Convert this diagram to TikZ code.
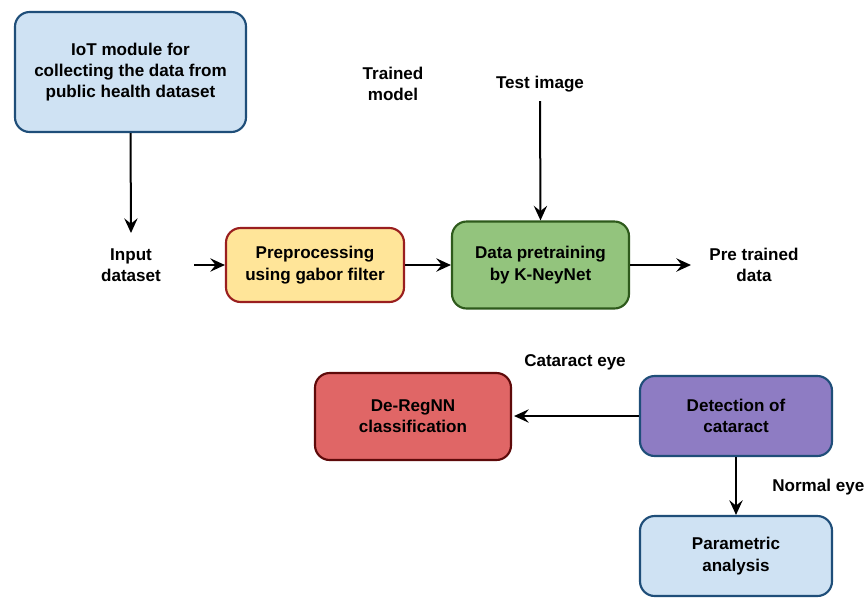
\documentclass[tikz,border=0pt]{standalone}
\usepackage{fontspec}
\setmainfont{Liberation Sans}
\usetikzlibrary{arrows.meta}
\definecolor{bluefill}{HTML}{CFE2F3}
\definecolor{blueline}{HTML}{1F4E79}
\definecolor{yellowfill}{HTML}{FFE599}
\definecolor{yellowline}{HTML}{9A1F1F}
\definecolor{greenfill}{HTML}{93C47D}
\definecolor{greenline}{HTML}{2E5A1C}
\definecolor{redfill}{HTML}{E06666}
\definecolor{redline}{HTML}{5E0A0A}
\definecolor{purplefill}{HTML}{8E7CC3}
\tikzset{
  box/.style={draw, line width=1.6pt, rounded corners=11pt, align=center,
    font=\bfseries\fontsize{12.8}{16}\selectfont, inner sep=0pt},
  lbl/.style={align=center, font=\bfseries\fontsize{12.8}{16}\selectfont, inner sep=0pt},
  flow/.style={line width=1.5pt, -{Stealth[length=11pt,width=10pt,inset=4pt]}}
}
\begin{document}
\begin{tikzpicture}[x=0.75pt,y=-0.75pt]
\useasboundingbox (0,0) rectangle (866,597);
% top input module
\node[box, fill=bluefill, draw=blueline, minimum width=231*0.75pt, minimum height=120*0.75pt]
  (iot) at (130.5,72) {IoT module for\\collecting the data from\\public health dataset};
\node[lbl] (input) at (131,265) {Input\\dataset};
\coordinate (inputtop) at (131,233);
\coordinate (inputright) at (194,265);
% preprocessing and pretraining
\node[box, fill=yellowfill, draw=yellowline, minimum width=178*0.75pt, minimum height=74*0.75pt]
  (pre) at (315,265) {Preprocessing\\using gabor filter};
\node[box, fill=greenfill, draw=greenline, minimum width=177*0.75pt, minimum height=87*0.75pt]
  (train) at (540.5,265) {Data pretraining\\by K-NeyNet};
\node[lbl] (model) at (393,84) {Trained\\model};
\node[lbl] (test) at (540,84) {Test image};
\coordinate (testbot) at (540,101);
\node[lbl] (ptdata) at (754,265) {Pre trained\\data};
\coordinate (ptleft) at (691,265);
% classification branch
\node[box, fill=redfill, draw=redline, minimum width=196*0.75pt, minimum height=87*0.75pt]
  (dereg) at (413,416.5) {De-RegNN\\classification};
\node[box, fill=purplefill, draw=blueline, minimum width=192*0.75pt, minimum height=80*0.75pt]
  (detect) at (736,416) {Detection of\\cataract};
\node[box, fill=bluefill, draw=blueline, minimum width=192*0.75pt, minimum height=80*0.75pt]
  (param) at (736,556) {Parametric\\analysis};
\node[lbl] (cat) at (575,362) {Cataract eye};
\node[lbl, anchor=west] (normal) at (772,487) {Normal eye};
% connectors
\draw[flow] (iot.south) -- (inputtop);
\draw[flow] (inputright) -- (pre.west);
\draw[flow] (pre.east) -- (train.west);
\draw[flow] (testbot) -- (train.north);
\draw[flow] (train.east) -- (ptleft);
\draw[flow] (detect.west) -- ([xshift=1.5pt]dereg.east |- detect.west);
\draw[flow] (detect.south) -- (param.north);
\end{tikzpicture}
\end{document}
